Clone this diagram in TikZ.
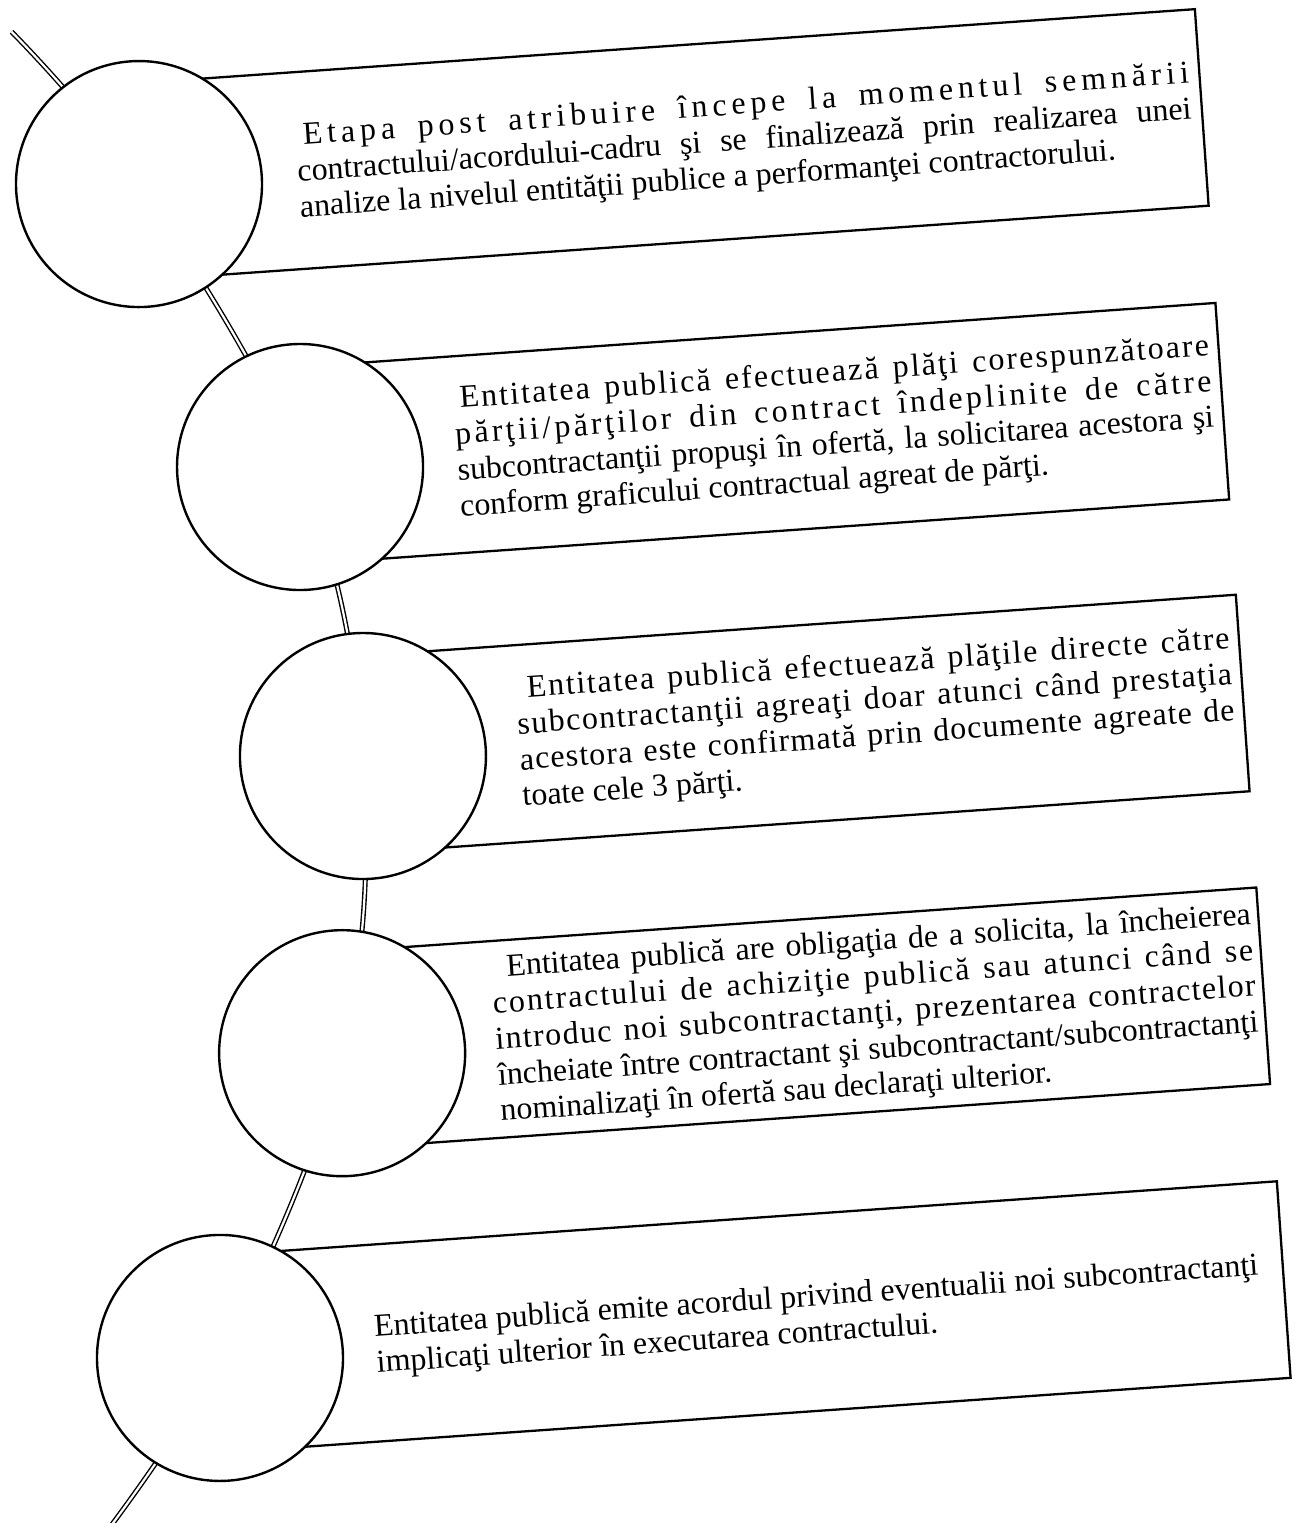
\documentclass[tikz,border=0pt]{standalone}
\usepackage{fontspec}
\setmainfont{Liberation Serif}
\makeatletter
\newcommand\lsword[1]{\@tfor\ls@c:=#1\do{\ls@c\hskip0pt plus 1fil\relax}}
\def\ls@words#1 #2\@nil{\lsword{#1}\ifx\relax#2\relax\unskip\else\hskip0.25em plus 2fil\relax\ls@words#2\@nil\fi}
\newcommand\LS[2]{\hbox to #1{\ls@words#2 \@nil}}
\makeatother
\begin{document}
\begin{tikzpicture}[x=0.5pt,y=-0.5pt,
  boxs/.style={draw, line width=1.15pt, inner sep=0pt, minimum height=98.5pt},
  circ/.style={circle, draw, fill=white, line width=1.2pt, minimum size=123pt, inner sep=0pt},
  txt/.style={anchor=base west, inner sep=0pt, font=\fontsize{16pt}{18pt}\selectfont},
  link/.style={draw=black, line width=0.7pt, double=white, double distance=1.1pt}]
\fill[white] (0,0) rectangle (1300,1523);
\useasboundingbox (0,0) rectangle (1300,1523);
\clip (0,0) rectangle (1300,1523);
\begin{scope}[rotate around={4:(650,761)}, transform shape]
  \coordinate (p1) at (180.5,149.8);
  \coordinate (p2) at (321.4,443.3);
  \coordinate (p3) at (364,736);
  \coordinate (p4) at (322.5,1031);
  \coordinate (p5) at (179.4,1326.5);
  \coordinate (top) at (64,-11);
  \coordinate (bot) at (33,1516);
  % connector
  \draw[link] plot[smooth, tension=0.6] coordinates {(top) (p1) (p2) (p3) (p4) (p5) (bot)};
  % boxes
  \node[boxs, minimum width=532.75pt] (box1) at (713.25,147.5) {};
  \node[boxs, minimum width=462.3pt]  (box2) at (783.7,442) {};
  \node[boxs, minimum width=441pt]    (box3) at (805,734.5) {};
  \node[boxs, minimum width=461.75pt] (box4) at (784.25,1028) {};
  \node[boxs, minimum width=533.3pt]  (box5) at (712.7,1322.5) {};
  % circles
  \node[circ] (c1) at (p1) {};
  \node[circ] (c2) at (p2) {};
  \node[circ] (c3) at (p3) {};
  \node[circ] (c4) at (p4) {};
  \node[circ] (c5) at (p5) {};
  % box 1 text
  \node[txt] (t1a) at (347,122) {\LS{444pt}{Etapa post atribuire începe la momentul semnării}};
  \node[txt] (t1b) at (339,158) {\hbox to 448pt{contractului/acordului-cadru şi se finalizează prin realizarea unei}};
  \node[txt] (t1c) at (339,194) {analize la nivelul entităţii publice a performanţei contractorului.};
  % box 2 text
  \node[txt] (t2a) at (485,395.5) {\LS{375.5pt}{Entitatea publică efectuează plăţi corespunzătoare}};
  \node[txt] (t2b) at (478,431.5) {\LS{379pt}{părţii/părţilor din contract îndeplinite de către}};
  \node[txt] (t2c) at (478,467.5) {\hbox to 379pt{subcontractanţii propuşi în ofertă, la solicitarea acestora şi}};
  \node[txt] (t2d) at (478,503.5) {conform graficului contractual agreat de părţi.};
  % box 3 text
  \node[txt] (t3a) at (532,689) {\LS{352pt}{Entitatea publică efectuează plăţile directe către}};
  \node[txt] (t3b) at (520,725) {\LS{358pt}{subcontractanţii agreaţi doar atunci când prestaţia}};
  \node[txt] (t3c) at (520,761) {\LS{358pt}{acestora este confirmată prin documente agreate de}};
  \node[txt] (t3d) at (520,797) {toate cele 3 părţi.};
  % box 4 text
  \node[txt] (t4a) at (492,965.7) {\hbox to 373pt{Entitatea publică are obligaţia de a solicita, la încheierea}};
  \node[txt] (t4b) at (476,1001.7) {\LS{381pt}{contractului de achiziţie publică sau atunci când se}};
  \node[txt] (t4c) at (476,1037.7) {\LS{381pt}{introduc noi subcontractanţi, prezentarea contractelor}};
  \node[txt] (t4d) at (476,1073.7) {\hbox to 381pt{încheiate între contractant şi subcontractant/subcontractanţi}};
  \node[txt] (t4e) at (476,1109.7) {nominalizaţi în ofertă sau declaraţi ulterior.};
  % box 5 text
  \node[txt] (t5a) at (335,1316) {Entitatea publică emite acordul privind eventualii noi subcontractanţi};
  \node[txt] (t5b) at (335,1352) {implicaţi ulterior în executarea contractului.};
\end{scope}
\end{tikzpicture}
\end{document}
